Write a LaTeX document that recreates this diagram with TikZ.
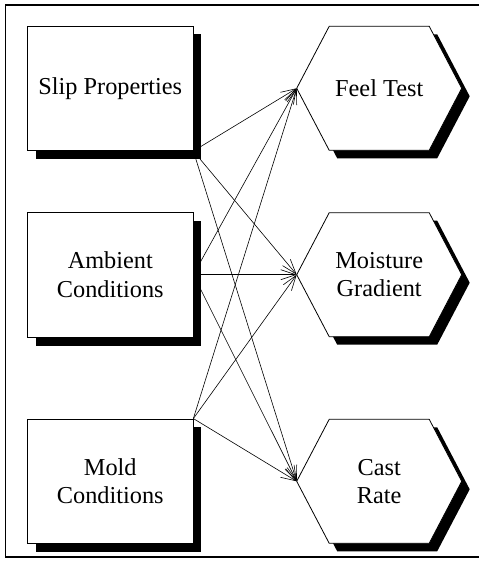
\documentclass[tikz,border=0pt]{standalone}
\usepackage{fontspec}
\setmainfont{Liberation Serif}
\usetikzlibrary{arrows.meta,shadows,backgrounds}
\begin{document}
\begin{tikzpicture}[x=1pt,y=-1pt,
  txt/.style={font=\fontsize{24.3}{28.3}\selectfont, align=center, inner sep=0pt},
  boxnode/.style={txt, draw=black, line width=0.8pt, fill=white, minimum width=165.3pt, minimum height=124.7pt,
    general shadow={fill=black, shadow xshift=8.5pt, shadow yshift=-8.5pt}},
  conn/.style={line width=0.6pt, -{Straight Barb[length=15pt,width=10pt,line width=0.6pt]}},
  hexpic/.pic={
    \fill[black] (-74.5,8) -- (-42,-54) -- (58,-54) -- (90.5,8) -- (58,70) -- (-42,70) -- cycle;
    \draw[fill=white, line width=0.8pt] (-82.5,0) -- (-50,-62) -- (50,-62) -- (82.5,0) -- (50,62) -- (-50,62) -- cycle;
  }]
\useasboundingbox (0,0) rectangle (479,567);
% frame
\draw[line width=1.8pt] (479,5) -- (5.5,5) -- (5.5,557) -- (479,557);
% left boxes
\node[boxnode] (slip) at (110.3,88.3) {Slip Properties};
\node[boxnode] (amb) at (110.3,274.7) {Ambient\\Conditions};
\node[boxnode] (mold) at (110.3,481.3) {Mold\\Conditions};
% hexagons
\pic at (379.2,88.3) {hexpic};
\node[txt] (feel) at (379.2,88.3) {Feel Test};
\coordinate (feelW) at (296.7,88.3);
\pic at (379.2,274.7) {hexpic};
\node[txt] (moist) at (379.2,274.7) {Moisture\\Gradient};
\coordinate (moistW) at (296.7,274.7);
\pic at (379.2,481.3) {hexpic};
\node[txt] (cast) at (379.2,481.3) {Cast\\Rate};
\coordinate (castW) at (296.7,481.3);
% connectors
\begin{scope}[on background layer]
\draw[conn] (slip.south east) -- (feelW);
\draw[conn] (slip.south east) -- (moistW);
\draw[conn] (slip.south east) -- (castW);
\draw[conn] (amb.east) -- (feelW);
\draw[conn] (amb.east) -- (moistW);
\draw[conn] (amb.east) -- (castW);
\draw[conn] (mold.north east) -- (feelW);
\draw[conn] (mold.north east) -- (moistW);
\draw[conn] (mold.north east) -- (castW);
\end{scope}
\end{tikzpicture}
\end{document}
